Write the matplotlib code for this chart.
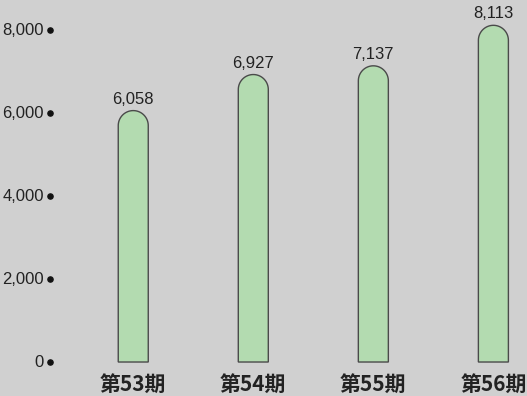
import numpy as np
import matplotlib
matplotlib.use("Agg")
import matplotlib.pyplot as plt
from matplotlib.path import Path
from matplotlib.patches import PathPatch
from matplotlib.transforms import blended_transform_factory
from matplotlib import font_manager as fm

categories = ["第53期", "第54期", "第55期", "第56期"]
values = [6058, 6927, 7137, 8113]
value_labels = ["6,058", "6,927", "7,137", "8,113"]
yticks = [0, 2000, 4000, 6000, 8000]
ytick_labels = ["0", "2,000", "4,000", "6,000", "8,000"]

bg = "#d0d0d0"
bar_color = "#b3dbb0"
edge_color = "#4a4a4a"
text_color = "#222222"

avail = {f.name for f in fm.fontManager.ttflist}
num_font = ["Liberation Sans Narrow"] if "Liberation Sans Narrow" in avail else ["Liberation Sans"]
num_font = num_font + ["DejaVu Sans"]

fig = plt.figure(figsize=(5.27, 3.96), dpi=100, facecolor=bg)
ax = fig.add_axes([0, 0, 1, 1])
ax.set_facecolor(bg)
for s in ax.spines.values():
    s.set_visible(False)
ax.set_xticks([])
ax.set_yticks([])

x = np.arange(len(categories))
ax.set_xlim(-1.11, 3.28)
ax.set_ylim(-819, 8723)

width = 0.25
fig.canvas.draw()
p0 = ax.transData.transform((0, 0))
p1 = ax.transData.transform((1, 1000))
px_x = p1[0] - p0[0]
px_y = (p1[1] - p0[1]) / 1000.0
rx = width / 2
ry = rx * px_x / px_y

theta = np.linspace(np.pi, 0, 40)
for xi, v, lab in zip(x, values, value_labels):
    left, right = xi - rx, xi + rx
    verts = [(left, 0), (left, v - ry)]
    verts += [(xi + rx * np.cos(t), v - ry + ry * np.sin(t)) for t in theta]
    verts += [(right, 0), (left, 0)]
    codes = [Path.MOVETO] + [Path.LINETO] * (len(verts) - 2) + [Path.CLOSEPOLY]
    patch = PathPatch(Path(verts, codes), facecolor=bar_color, edgecolor=edge_color, lw=1.0, zorder=2)
    ax.add_patch(patch)
    ax.text(xi, v + 4 / px_y, lab, ha="center", va="bottom", fontsize=12,
            family=num_font, color=text_color, zorder=3)

trans = blended_transform_factory(ax.transAxes, ax.transData)
dot_x = 50 / 527
lab_x = 44 / 527
ax.scatter([dot_x] * len(yticks), yticks, s=14, color="#111111", transform=trans, zorder=3, clip_on=False)
for t, tl in zip(yticks, ytick_labels):
    ax.text(lab_x, t, tl, ha="right", va="center", fontsize=12, family=num_font,
            color=text_color, transform=trans)

for xi, c in zip(x, categories):
    ax.text(xi, -819 + 12 / px_y, c, ha="center", va="center", fontsize=15, fontweight="bold",
            family=["Noto Sans CJK JP", "DejaVu Sans"], color=text_color)

fig.savefig("out.png", dpi=100, facecolor=bg)
